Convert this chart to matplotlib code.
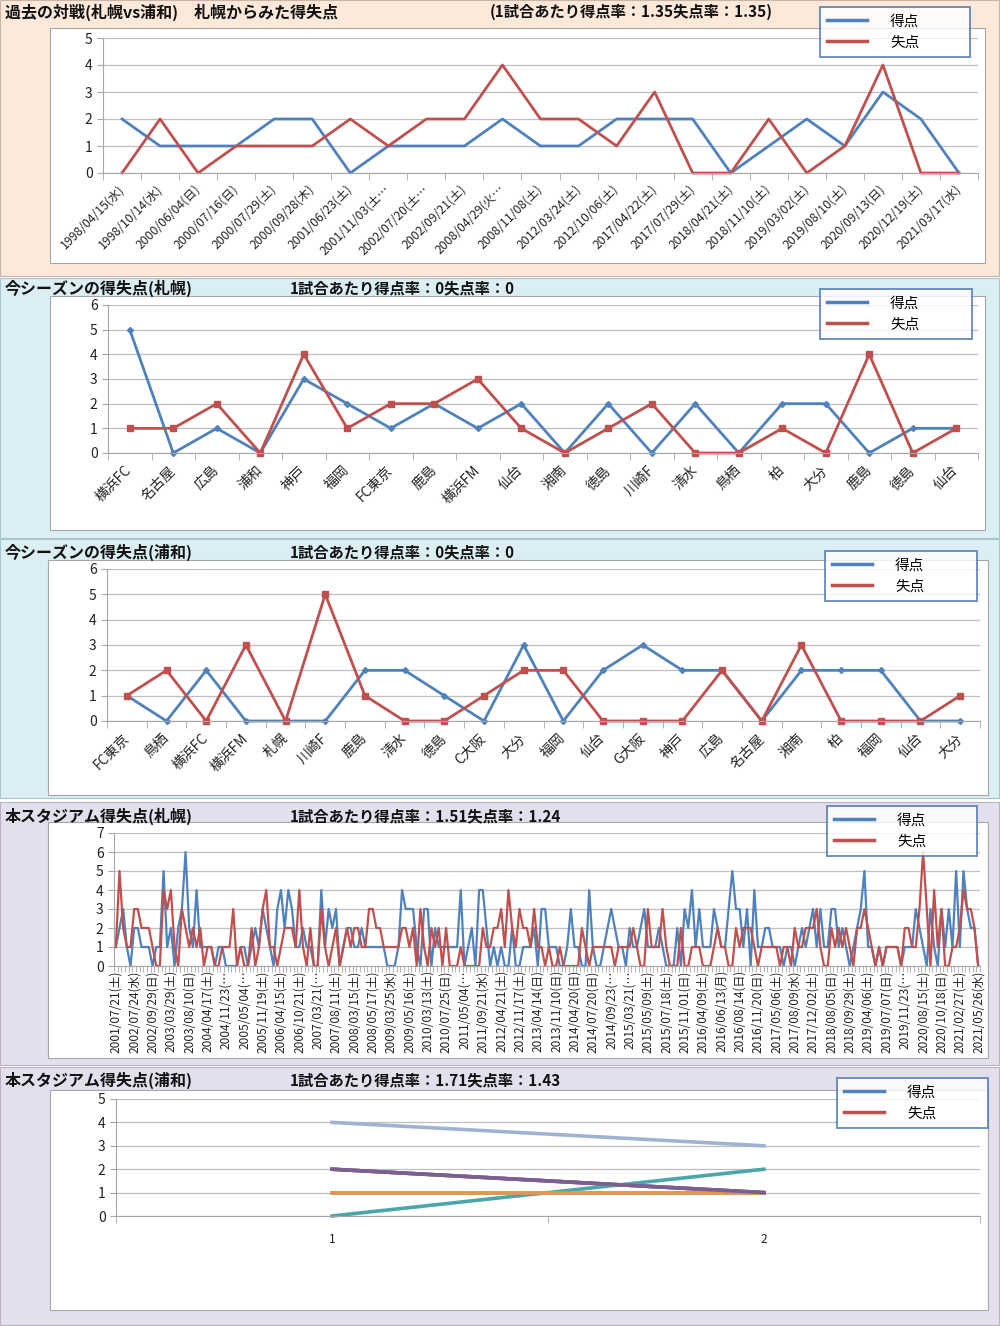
import matplotlib
matplotlib.use('Agg')
import matplotlib.pyplot as plt
from matplotlib.patches import Rectangle
from matplotlib.lines import Line2D
import numpy as np

plt.rcParams['font.family'] = ['Noto Sans CJK JP', 'DejaVu Sans']

W, H = 1000, 1326
BLUE = '#4F81BD'
RED = '#C0504D'
GRID = '#BFBFBF'

# ---- panel 1: past matches
p1_dates = ['1998/04/15(水)', '1998/10/14(水)', '2000/06/04(日)', '2000/07/16(日)',
            '2000/07/29(土)', '2000/09/28(木)', '2001/06/23(土)', '2001/11/03(土…',
            '2002/07/20(土…', '2002/09/21(土)', '2008/04/29(火…', '2008/11/08(土)',
            '2012/03/24(土)', '2012/10/06(土)', '2017/04/22(土)', '2017/07/29(土)',
            '2018/04/21(土)', '2018/11/10(土)', '2019/03/02(土)', '2019/08/10(土)',
            '2020/09/13(日)', '2020/12/19(土)', '2021/03/17(水)']
p1_for = [2, 1, 1, 1, 2, 2, 0, 1, 1, 1, 2, 1, 1, 2, 2, 2, 0, 1, 2, 1, 3, 2, 0]
p1_against = [0, 2, 0, 1, 1, 1, 2, 1, 2, 2, 4, 2, 2, 1, 3, 0, 0, 2, 0, 1, 4, 0, 0]

# ---- panel 2: this season (Sapporo)
p2_teams = ['横浜FC', '名古屋', '広島', '浦和', '神戸', '福岡', 'FC東京', '鹿島', '横浜FM', '仙台',
            '湘南', '徳島', '川崎F', '清水', '鳥栖', '柏', '大分', '鹿島', '徳島', '仙台']
p2_for = [5, 0, 1, 0, 3, 2, 1, 2, 1, 2, 0, 2, 0, 2, 0, 2, 2, 0, 1, 1]
p2_against = [1, 1, 2, 0, 4, 1, 2, 2, 3, 1, 0, 1, 2, 0, 0, 1, 0, 4, 0, 1]

# ---- panel 3: this season (Urawa)
p3_teams = ['FC東京', '鳥栖', '横浜FC', '横浜FM', '札幌', '川崎F', '鹿島', '清水', '徳島', 'C大阪', '大分',
            '福岡', '仙台', 'G大阪', '神戸', '広島', '名古屋', '湘南', '柏', '福岡', '仙台', '大分']
p3_for = [1, 0, 2, 0, 0, 0, 2, 2, 1, 0, 3, 0, 2, 3, 2, 2, 0, 2, 2, 2, 0, 0]
p3_against = [1, 2, 0, 3, 0, 5, 1, 0, 0, 1, 2, 2, 0, 0, 0, 2, 0, 3, 0, 0, 0, 1]

# ---- panel 4: home stadium (Sapporo), one tick label every 5 matches
p4_labels = ['2001/07/21(土)', '2002/07/24(水)', '2002/09/29(日)', '2003/03/29(土)', '2003/08/10(日)',
             '2004/04/17(土)', '2004/11/23(…', '2005/05/04(…', '2005/11/19(土)', '2006/04/15(土)',
             '2006/10/21(土)', '2007/03/21(…', '2007/08/11(土)', '2008/03/15(土)', '2008/05/17(土)',
             '2009/03/25(水)', '2009/05/16(土)', '2010/03/13(土)', '2010/07/25(日)', '2011/05/04(…',
             '2011/09/21(水)', '2012/04/21(土)', '2012/11/17(土)', '2013/04/14(日)', '2013/11/10(日)',
             '2014/04/20(日)', '2014/07/20(日)', '2014/09/23(…', '2015/03/21(…', '2015/05/09(土)',
             '2015/07/18(土)', '2015/11/01(日)', '2016/04/09(土)', '2016/06/13(月)', '2016/08/14(日)',
             '2016/11/20(日)', '2017/05/06(土)', '2017/08/09(水)', '2017/12/02(土)', '2018/08/05(日)',
             '2018/09/29(土)', '2019/04/06(土)', '2019/07/07(日)', '2019/11/23(…', '2020/08/15(土)',
             '2020/10/18(日)', '2021/02/27(土)', '2021/05/26(水)']
p4_for = [1, 2, 3, 1, 0, 2, 2, 1, 1, 1, 0, 1, 1, 5, 1, 2, 0, 2, 3, 6,
          2, 1, 4, 1, 1, 1, 1, 0, 1, 1, 0, 0, 0, 0, 1, 1, 0, 1, 2, 1,
          3, 2, 1, 0, 3, 4, 2, 4, 3, 1, 1, 2, 1, 1, 0, 0, 4, 1, 3, 2,
          3, 0, 1, 2, 2, 1, 1, 2, 1, 1, 1, 1, 1, 1, 0, 0, 0, 1, 4, 3,
          3, 3, 1, 0, 3, 3, 0, 2, 1, 1, 1, 1, 1, 1, 4, 0, 1, 2, 0, 4,
          4, 2, 0, 1, 0, 1, 0, 0, 2, 0, 0, 1, 1, 1, 2, 0, 3, 3, 1,
          1, 1, 0, 0, 1, 3, 1, 1, 0, 0, 4,
          1, 0, 0, 1, 2, 3, 2, 1, 1, 0, 2, 1, 1, 2, 3, 1, 1, 1, 2, 1,
          0, 0, 0, 2, 0, 3, 2, 4, 1, 3, 1, 1, 1, 3, 2, 1, 1, 3, 5, 3,
          3, 1, 3, 0, 4, 1, 1, 2, 2, 1, 1, 1, 0, 1, 1, 0, 1, 2, 1, 2,
          3, 1, 3, 1, 1, 3, 3, 1, 2, 1, 0, 1, 2, 3, 5, 1, 1, 0, 1, 0,
          1, 1, 1, 1, 0, 1, 1, 1, 3, 2, 1, 0, 3, 1, 0, 3, 1, 3, 1, 5,
          1, 5, 3, 2, 2, 0]
p4_against = [1, 5, 2, 1, 1, 3, 3, 2, 2, 2, 1, 0, 0, 4, 3, 4, 1, 0, 3, 2,
              1, 2, 1, 2, 0, 1, 1, 0, 0, 1, 1, 1, 3, 0, 1, 0, 0, 2, 0, 1,
              3, 4, 1, 1, 0, 1, 2, 2, 2, 1, 4, 1, 0, 2, 0, 0, 3, 1, 0, 1,
              2, 0, 1, 2, 1, 2, 2, 1, 1, 3, 3, 2, 2, 1, 1, 1, 1, 1, 2, 2,
              1, 2, 0, 3, 1, 0, 2, 1, 2, 0, 2, 0, 0, 0, 1, 0, 0, 0, 0, 0,
              2, 1, 1, 2, 2, 3, 1, 4, 2, 1, 3, 2, 2, 1, 3, 1, 1, 0, 1,
              0, 0, 1, 0, 0, 0, 0, 0, 2, 1, 0,
              1, 1, 1, 1, 1, 1, 0, 1, 1, 1, 1, 2, 1, 0, 0, 3, 1, 1, 1, 3,
              1, 0, 0, 0, 2, 0, 0, 1, 1, 1, 0, 0, 0, 1, 2, 1, 1, 0, 0, 2,
              1, 2, 2, 2, 1, 0, 1, 1, 1, 1, 1, 0, 1, 1, 0, 2, 1, 1, 2, 2,
              2, 3, 1, 0, 0, 2, 1, 2, 1, 2, 1, 0, 2, 2, 3, 2, 1, 0, 1, 0,
              1, 1, 1, 1, 0, 2, 2, 1, 1, 3, 6, 3, 0, 4, 1, 3, 0, 0, 1, 1,
              2, 4, 3, 3, 2, 0]

# ---- panel 5: home stadium (Urawa), one series per match
p5_cats = ['1', '2']
p5_first = [2, 1, 2, 4, 0, 1, 2]
p5_second = [1, 1, 1, 3, 2, 1, 1]
p5_colors = ['#C0504D', '#9BBB59', '#4F81BD', '#9FB2D2', '#4BA6AA', '#E2964E', '#7D5E8F']

fig = plt.figure(figsize=(W / 100, H / 100), dpi=100)


def frect(x0, y0, x1, y1):
    return [x0 / W, 1 - y1 / H, (x1 - x0) / W, (y1 - y0) / H]


def box(x0, y0, x1, y1, fc, ec, lw=0.8):
    r = frect(x0, y0, x1, y1)
    fig.add_artist(Rectangle((r[0], r[1]), r[2], r[3], transform=fig.transFigure,
                             facecolor=fc, edgecolor=ec, linewidth=lw, zorder=0))


# section backgrounds
box(0, 0, 999, 276, '#FDE9D9', '#C8B4A8')
box(0, 278, 999, 538, '#DAEEF3', '#A8C4CC')
box(0, 539, 999, 798, '#DAEEF3', '#A8C4CC')
box(0, 802, 999, 1065, '#E4DFEC', '#B8B0C4')
box(0, 1067, 999, 1325, '#E4DFEC', '#B8B0C4')
# white chart areas
box(50, 28, 985, 263, 'white', '#A6A6A6')
box(50, 296, 985, 530, 'white', '#A6A6A6')
box(48, 560, 988, 795, 'white', '#A6A6A6')
box(48, 822, 988, 1058, 'white', '#A6A6A6')
box(50, 1090, 988, 1310, 'white', '#A6A6A6')

titles = [(12, '過去の対戦(札幌vs浦和)　札幌からみた得失点', 490, '(1試合あたり得点率：1.35失点率：1.35)'),
          (288, '今シーズンの得失点(札幌)', 290, '1試合あたり得点率：0失点率：0'),
          (552, '今シーズンの得失点(浦和)', 290, '1試合あたり得点率：0失点率：0'),
          (816, '本スタジアム得失点(札幌)', 290, '1試合あたり得点率：1.51失点率：1.24'),
          (1080, '本スタジアム得失点(浦和)', 290, '1試合あたり得点率：1.71失点率：1.43')]
for y, t1, x2, t2 in titles:
    fig.text(5 / W, 1 - y / H, t1, fontsize=11.5, weight='bold', va='center', color='#111111')
    fig.text(x2 / W, 1 - y / H, t2, fontsize=11, weight='bold', va='center', color='#111111')


def base_axes(px, n, ymax):
    ax = fig.add_axes(frect(*px))
    ax.set_facecolor('none')
    ax.set_xlim(-0.5, n - 0.5)
    ax.set_ylim(0, ymax)
    ax.set_yticks(range(ymax + 1))
    ax.yaxis.grid(True, color=GRID, linewidth=0.9)
    ax.set_axisbelow(True)
    for s in ['top', 'right']:
        ax.spines[s].set_visible(False)
    for s in ['left', 'bottom']:
        ax.spines[s].set_color('#A6A6A6')
    ax.tick_params(axis='y', colors='#A6A6A6', labelcolor='#222222', labelsize=10, length=4)
    ax.set_xticks(range(n))
    ax.set_xticks(np.arange(-0.5, n), minor=True)
    ax.tick_params(axis='x', which='major', length=0, labelcolor='#222222')
    ax.tick_params(axis='x', which='minor', length=5, color='#A6A6A6')
    return ax


def add_legend(ax, px, fs=10.5):
    handles = [Line2D([], [], color=BLUE, lw=2.5), Line2D([], [], color=RED, lw=2.5)]
    x0, y0, x1, y1 = px
    leg = ax.legend(handles, ['得点', '失点'], loc='upper left', mode='expand',
                    bbox_to_anchor=(x0 / W, 1 - y1 / H, (x1 - x0) / W, (y1 - y0) / H),
                    bbox_transform=fig.transFigure, fontsize=fs, frameon=True, fancybox=False,
                    borderpad=0.5, labelspacing=0.5, handlelength=2.7, handletextpad=1.6,
                    borderaxespad=0)
    leg.get_frame().set_edgecolor('#4A76B0')
    leg.get_frame().set_linewidth(1.4)
    leg.set_zorder(10)


# panel 1
ax1 = base_axes((103, 38, 978, 173), len(p1_dates), 5)
ax1.plot(range(len(p1_for)), p1_for, color=BLUE, lw=2.0, clip_on=False)
ax1.plot(range(len(p1_against)), p1_against, color=RED, lw=2.0, clip_on=False)
ax1.set_xticklabels(p1_dates, rotation=45, ha='right', va='center', rotation_mode='anchor', fontsize=8.8)
ax1.tick_params(axis='x', which='major', pad=10)
add_legend(ax1, (820, 7, 970, 57))

# panel 2
ax2 = base_axes((108, 305, 978, 453), len(p2_teams), 6)
ax2.plot(range(len(p2_for)), p2_for, color=BLUE, lw=2.0, marker='D', ms=3, clip_on=False)
ax2.plot(range(len(p2_against)), p2_against, color=RED, lw=2.0, marker='s', ms=5, clip_on=False)
ax2.set_xticklabels(p2_teams, rotation=45, ha='right', va='center', rotation_mode='anchor', fontsize=10)
ax2.tick_params(axis='x', which='major', pad=11)
add_legend(ax2, (820, 289, 972, 340))

# panel 3
ax3 = base_axes((107, 569, 980, 721), len(p3_teams), 6)
ax3.plot(range(len(p3_for)), p3_for, color=BLUE, lw=2.0, marker='D', ms=3, clip_on=False)
ax3.plot(range(len(p3_against)), p3_against, color=RED, lw=2.0, marker='s', ms=5, clip_on=False)
ax3.set_xticklabels(p3_teams, rotation=45, ha='right', va='center', rotation_mode='anchor', fontsize=10)
ax3.tick_params(axis='x', which='major', pad=11)
add_legend(ax3, (825, 551, 977, 601))

# panel 4
n4 = len(p4_for)
ax4 = base_axes((114, 833, 980, 966), n4, 7)
ax4.plot(range(n4), p4_for, color=BLUE, lw=1.6, clip_on=False)
ax4.plot(range(n4), p4_against, color=RED, lw=1.6, clip_on=False)
ax4.set_xticks(range(0, n4, 5))
ax4.set_xticklabels(p4_labels, rotation=90, ha='center', va='top', fontsize=8.6)
ax4.tick_params(axis='x', which='major', pad=3)
ax4.tick_params(axis='x', which='minor', length=4)
add_legend(ax4, (827, 806, 977, 858))

# panel 5
ax5 = base_axes((116, 1099, 980, 1216), len(p5_cats), 5)
for a, b, c in zip(p5_first, p5_second, p5_colors):
    ax5.plot(range(len(p5_cats)), [a, b], color=c, lw=2.6, clip_on=False)
ax5.set_xticklabels(p5_cats, fontsize=8.5)
ax5.tick_params(axis='x', which='major', pad=12)
add_legend(ax5, (837, 1078, 988, 1129))

fig.savefig('out.png', dpi=100)
